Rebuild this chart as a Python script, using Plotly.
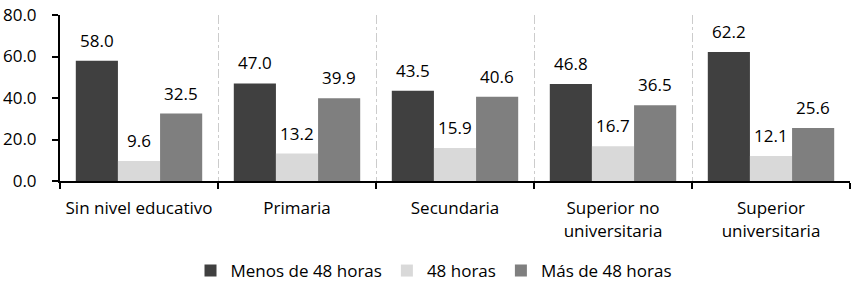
import plotly.graph_objects as go

categories = ["Sin nivel educativo", "Primaria", "Secundaria",
              "Superior no<br>universitaria", "Superior<br>universitaria"]
series_names = ["Menos de 48 horas", "48 horas", "Más de 48 horas"]
menos_48 = [58.0, 47.0, 43.5, 46.8, 62.2]
igual_48 = [9.6, 13.2, 15.9, 16.7, 12.1]
mas_48 = [32.5, 39.9, 40.6, 36.5, 25.6]
y_ticks = [0, 20, 40, 60, 80]
y_tick_labels = ["0.0", "20.0", "40.0", "60.0", "80.0"]

colors = ["#404040", "#d9d9d9", "#7f7f7f"]
series_values = [menos_48, igual_48, mas_48]

W, H = 851, 285
ML, MR, MT, MB = 60, 1, 15, 104
BARGAP = 0.2
FONT = "Open Sans, Lato, sans-serif"
FS_NUM = 17
FS_TXT = 17

fig = go.Figure()
for name, vals, col in zip(series_names, series_values, colors):
    fig.add_trace(go.Bar(
        name=name, x=categories, y=vals,
        marker=dict(color=col, line=dict(width=0)),
        hoverinfo="x+y",
    ))

# data labels via annotations, offset to each bar in the group
plot_w = W - ML - MR
bar_px = plot_w / len(categories) * (1 - BARGAP) / len(series_values)
annotations = []
for j, vals in enumerate(series_values):
    for cat, v in zip(categories, vals):
        annotations.append(dict(
            x=cat, y=v, xref="x", yref="y", text=f"{v:.1f}",
            showarrow=False, yanchor="bottom", xanchor="center",
            xshift=(j - 1) * bar_px, yshift=7,
            font=dict(family=FONT, size=FS_NUM, color="#000000"),
        ))

fig.update_layout(
    width=W, height=H,
    margin=dict(l=ML, r=MR, t=MT, b=MB, pad=0, autoexpand=False),
    paper_bgcolor="white", plot_bgcolor="white",
    barmode="group", bargap=BARGAP, bargroupgap=0,
    font=dict(family=FONT, size=FS_TXT, color="#000000"),
    annotations=annotations,
    showlegend=True,
    legend=dict(
        orientation="h", xref="container", yref="container",
        x=0.51, xanchor="center", y=1 - 271 / 285, yanchor="middle",
        font=dict(family=FONT, size=FS_TXT, color="#000000"),
        traceorder="normal", itemwidth=30,
        bgcolor="rgba(0,0,0,0)",
    ),
)

fig.update_xaxes(
    type="category", tickson="boundaries", automargin=False,
    showline=True, linecolor="#000000", linewidth=2,
    ticks="outside", ticklen=6, tickwidth=1.5, tickcolor="#000000",
    showgrid=True, gridcolor="#cccccc", gridwidth=1, griddash="dashdot",
    tickfont=dict(family=FONT, size=FS_TXT, color="#000000"),
    ticklabelstandoff=11,
    range=[-0.5, len(categories) - 0.5],
)
fig.update_yaxes(
    range=[0, 80], tickvals=y_ticks, ticktext=y_tick_labels, automargin=False,
    showline=True, linecolor="#000000", linewidth=2,
    ticks="outside", ticklen=6, tickwidth=1.5, tickcolor="#000000",
    showgrid=False, zeroline=False,
    tickfont=dict(family=FONT, size=FS_NUM, color="#000000"),
    ticklabelstandoff=12,
)

fig.write_html(
    "out.html",
    config={"displayModeBar": False},
    post_script="document.body.style.margin='0';document.body.style.overflow='hidden';",
)
